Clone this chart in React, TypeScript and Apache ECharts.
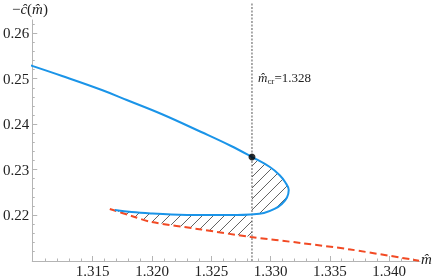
import React, { useEffect, useRef } from "react";
import * as echarts from "echarts";

// ---- data ----
const blueX = [1.30915, 1.31242, 1.31577, 1.31787, 1.3208, 1.32415, 1.32667, 1.32843, 1.32994, 1.33075, 1.33125, 1.33153, 1.33138, 1.33095, 1.33033, 1.32944, 1.32826, 1.32717, 1.32415, 1.32164, 1.31996, 1.31828, 1.31686];
const blueY = [0.25345, 0.25059, 0.24751, 0.24531, 0.24223, 0.23827, 0.23519, 0.23277, 0.23057, 0.22881, 0.22716, 0.22551, 0.22387, 0.22244, 0.22134, 0.22046, 0.22013, 0.22002, 0.22002, 0.22013, 0.22035, 0.22068, 0.22112];
const redX = [1.31644, 1.31828, 1.31996, 1.32415, 1.32834, 1.33254, 1.33673, 1.34252];
const redY = [0.22134, 0.2198, 0.21848, 0.21683, 0.21518, 0.21386, 0.21243, 0.20996];
const mCr = 1.32843;
const mCrLabel = "1.328";
const dotY = 0.23277;

const xMajorTicks = [1.315, 1.32, 1.325, 1.33, 1.335, 1.34];
const yMajorTicks = [0.22, 0.23, 0.24, 0.25, 0.26];
const xMin = 1.3099;
const xMax = 1.3426;
const yMin = 0.2099;
const yMax = 0.2629;

const xMinorTicks: number[] = [];
for (let k = 1310; k <= 1342; k++) {
  if (k % 5 !== 0) xMinorTicks.push(k / 1000);
}
const yMinorTicks: number[] = [];
for (let k = 105; k <= 131; k++) {
  if (k % 5 !== 0) yMinorTicks.push(k / 500);
}

const SERIF = "Liberation Serif";
const AXIS_GRAY = "#b4b4b4";
const TEXT = "#222222";

export default function App() {
  const ref = useRef<HTMLDivElement>(null);
  useEffect(() => {
    if (!ref.current) return;
    const chart = echarts.init(ref.current, null, { renderer: "svg" });

    const blueData = blueX.map((x, i) => [x, blueY[i]]);
    const redData = redX.map((x, i) => [x, redY[i]]);

    let redAtCr = redY[0];
    for (let i = 0; i < redX.length - 1; i++) {
      if (redX[i] <= mCr && redX[i + 1] >= mCr) {
        const t = (mCr - redX[i]) / (redX[i + 1] - redX[i]);
        redAtCr = redY[i] + t * (redY[i + 1] - redY[i]);
      }
    }
    const iDot = blueX.indexOf(mCr);

    const renderHatch = (params: any, api: any) => {
      const poly: number[][] = [];
      for (let i = iDot; i < blueX.length; i++) poly.push(api.coord([blueX[i], blueY[i]]));
      for (let i = 0; i < redX.length; i++) if (redX[i] < mCr) poly.push(api.coord([redX[i], redY[i]]));
      poly.push(api.coord([mCr, redAtCr]));
      let minC = Infinity, maxC = -Infinity;
      poly.forEach((p) => {
        minC = Math.min(minC, p[0] + p[1]);
        maxC = Math.max(maxC, p[0] + p[1]);
      });
      const spacing = 11;
      const children: any[] = [];
      for (let c = Math.ceil(minC / spacing) * spacing; c <= maxC; c += spacing) {
        const xs: number[] = [];
        for (let i = 0; i < poly.length; i++) {
          const p = poly[i];
          const q = poly[(i + 1) % poly.length];
          const d1 = p[0] + p[1] - c;
          const d2 = q[0] + q[1] - c;
          if (d1 > 0 !== d2 > 0) {
            const t = d1 / (d1 - d2);
            xs.push(p[0] + t * (q[0] - p[0]));
          }
        }
        xs.sort((a, b) => a - b);
        for (let k = 0; k + 1 < xs.length; k += 2) {
          children.push({
            type: "line",
            shape: { x1: xs[k], y1: c - xs[k], x2: xs[k + 1], y2: c - xs[k + 1] },
            style: { stroke: "#3a3a3a", lineWidth: 0.8 },
          });
        }
      }
      return { type: "group", children };
    };

    chart.setOption({
      animation: false,
      grid: { left: 30, right: 16, top: 20, bottom: 17 },
      xAxis: [
        {
          type: "value",
          min: xMin,
          max: xMax,
          axisLine: { show: true, onZero: false, lineStyle: { color: AXIS_GRAY, width: 1 } },
          axisTick: { show: true, inside: true, length: 5, customValues: xMajorTicks, lineStyle: { color: AXIS_GRAY } },
          axisLabel: {
            customValues: xMajorTicks,
            formatter: (v: number) => v.toFixed(3),
            fontFamily: SERIF,
            fontSize: 15,
            color: TEXT,
            margin: 2,
          },
          splitLine: { show: false },
        },
        {
          type: "value",
          min: xMin,
          max: xMax,
          position: "bottom",
          axisLine: { show: false, onZero: false },
          axisTick: { show: true, inside: true, length: 2.5, customValues: xMinorTicks, lineStyle: { color: AXIS_GRAY } },
          axisLabel: { show: false },
          splitLine: { show: false },
        },
      ],
      yAxis: [
        {
          type: "value",
          min: yMin,
          max: yMax,
          axisLine: { show: true, onZero: false, lineStyle: { color: AXIS_GRAY, width: 1 } },
          axisTick: { show: true, inside: true, length: 5, customValues: yMajorTicks, lineStyle: { color: AXIS_GRAY } },
          axisLabel: {
            customValues: yMajorTicks,
            formatter: (v: number) => v.toFixed(2),
            fontFamily: SERIF,
            fontSize: 15,
            color: TEXT,
            margin: 3,
          },
          splitLine: { show: false },
        },
        {
          type: "value",
          min: yMin,
          max: yMax,
          position: "left",
          axisLine: { show: false, onZero: false },
          axisTick: { show: true, inside: true, length: 2.5, customValues: yMinorTicks, lineStyle: { color: AXIS_GRAY } },
          axisLabel: { show: false },
          splitLine: { show: false },
        },
      ],
      series: [
        {
          type: "custom",
          coordinateSystem: "cartesian2d",
          xAxisIndex: 0,
          yAxisIndex: 0,
          data: [[mCr, dotY]],
          renderItem: renderHatch,
          clip: false,
          silent: true,
          z: 1,
        },
        {
          type: "line",
          xAxisIndex: 0,
          yAxisIndex: 0,
          data: [
            [mCr, yMin],
            [mCr, yMax + 0.0038],
          ],
          showSymbol: false,
          symbol: "none",
          clip: false,
          lineStyle: { color: "#555", width: 1, type: [2, 1.5] },
          z: 2,
        },
        {
          type: "line",
          xAxisIndex: 0,
          yAxisIndex: 0,
          data: redData,
          showSymbol: false,
          symbol: "none",
          clip: false,
          smooth: 0.3,
          lineStyle: { color: "#f24a24", width: 2, type: [7, 4] },
          z: 3,
        },
        {
          type: "line",
          xAxisIndex: 0,
          yAxisIndex: 0,
          data: blueData,
          showSymbol: false,
          symbol: "none",
          clip: false,
          smooth: 0.4,
          lineStyle: { color: "#1a94e8", width: 2 },
          z: 4,
        },
        {
          type: "scatter",
          xAxisIndex: 0,
          yAxisIndex: 0,
          data: [[mCr, dotY]],
          symbolSize: 7,
          itemStyle: { color: "#000" },
          z: 5,
        },
      ],
      graphic: [
        {
          type: "text",
          x: 12,
          y: 1,
          style: {
            text: "{n|−}{i|ĉ}{n|(}{i|m̂}{n|)}",
            font: "15px Liberation Serif",
            fill: TEXT,
            rich: {
              n: { font: "15px Liberation Serif", fill: TEXT },
              i: { font: "italic 15px Liberation Serif", fill: TEXT },
            },
          },
        },
        {
          type: "text",
          x: 421,
          y: 251,
          style: {
            text: "m̂",
            font: "italic 15px Liberation Serif",
            fill: TEXT,
          },
        },
        {
          type: "text",
          x: 258,
          y: 70,
          style: {
            text: "{i|m̂}{s|cr}{n|=" + mCrLabel + "}",
            font: "13px Liberation Serif",
            fill: TEXT,
            rich: {
              i: { font: "italic 13px Liberation Serif", fill: TEXT, lineHeight: 15 },
              s: { font: "9px Liberation Serif", fill: TEXT, lineHeight: 9, padding: [6, 0, 0, 0] },
              n: { font: "13px Liberation Serif", fill: TEXT, lineHeight: 15 },
            },
          },
        },
      ],
    });
    return () => chart.dispose();
  }, []);
  return <div ref={ref} style={{ position: "fixed", left: 0, top: 0, width: 436, height: 278 }} />;
}
